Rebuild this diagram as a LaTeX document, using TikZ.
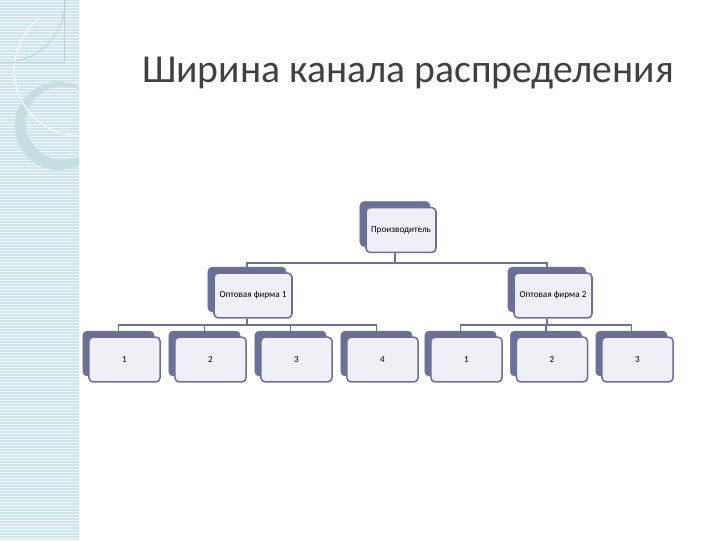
\documentclass[tikz,border=0pt]{standalone}
\usepackage{fontspec}
\setmainfont{Carlito}
\usepackage{tikz}
\definecolor{slate}{HTML}{6B7096}
\definecolor{paleface}{HTML}{EFEFF5}
\definecolor{stripblue}{HTML}{D0E4EB}
\definecolor{ringblue}{HTML}{C6DDE3}
\definecolor{titlegray}{HTML}{404040}

\begin{document}
\begin{tikzpicture}
    [x=0.025cm,y=0.025cm,
    font=\fontsize{6.5}{8}\selectfont,
    box/.style={shape=rectangle,rounded corners=3pt,draw=slate,fill=paleface,line width=1.1pt,minimum height=1.12cm,inner sep=1pt},
    shade/.style={shape=rectangle,rounded corners=3pt,draw=slate,fill=slate,minimum height=1.12cm},
    link/.style={draw=slate,line width=1.4pt}]

    \useasboundingbox (0,0) rectangle (720,540);

    % left strip
    \fill[stripblue] (0,0) rectangle (79,540);
    \foreach \y in {1.5,4.5,...,540} \draw[white!70!stripblue,line width=0.7pt] (0,\y) -- (79,\y);
    \begin{scope}
      \clip (0,0) rectangle (79,540);
      \fill[ringblue,even odd rule] (59,414) circle (44) (63,417) circle (37);
      \draw[white!80!stripblue,line width=0.9pt] (80,470) ++(128:66) arc (128:268:66);
    \end{scope}
    \draw[ringblue!85!gray] (0,478) -- (64,478) -- (64,540);
    \draw[ringblue!75!gray] (5,538) ++(2:60) arc (2:-80:60);

    % title
    \node (title) [anchor=base,text=titlegray,font=\fontsize{28.2}{34}\selectfont] at (408,457) {Ширина канала распределения};

    \node (pb) [shade,minimum width=1.75cm] at (395,316) {};
    \node (p) [box,minimum width=1.75cm] at (401,310) {Производитель};

    \node (w1b) [shade,minimum width=1.95cm] at (247,250.5) {};
    \node (w1) [box,minimum width=1.95cm] at (253,244.5) {Оптовая фирма 1};
    \node (w2b) [shade,minimum width=1.95cm] at (547,250.5) {};
    \node (w2) [box,minimum width=1.95cm] at (553,244.5) {Оптовая фирма 2};

    \node (a1b) [shade,minimum width=1.78cm] at (118.5,186.5) {};
    \node (a1) [box,minimum width=1.78cm] at (124.5,180.5) {1};
    \node (a2b) [shade,minimum width=1.78cm] at (204.5,186.5) {};
    \node (a2) [box,minimum width=1.78cm] at (210.5,180.5) {2};
    \node (a3b) [shade,minimum width=1.78cm] at (290.5,186.5) {};
    \node (a3) [box,minimum width=1.78cm] at (296.5,180.5) {3};
    \node (a4b) [shade,minimum width=1.78cm] at (376.5,186.5) {};
    \node (a4) [box,minimum width=1.78cm] at (382.5,180.5) {4};

    \node (b1b) [shade,minimum width=1.78cm] at (460.5,186.5) {};
    \node (b1) [box,minimum width=1.78cm] at (466.5,180.5) {1};
    \node (b2b) [shade,minimum width=1.78cm] at (546,186.5) {};
    \node (b2) [box,minimum width=1.78cm] at (552,180.5) {2};
    \node (b3b) [shade,minimum width=1.78cm] at (631.5,186.5) {};
    \node (b3) [box,minimum width=1.78cm] at (637.5,180.5) {3};

    \draw [link] (p.south -| pb.center) -- ++(0,-10) -| (w1b.north);
    \draw [link] (p.south -| pb.center) -- ++(0,-10) -| (w2b.north);

    \draw [link] (w1.south -| w1b.center) -- ++(0,-6) -| (a1b.north);
    \draw [link] (w1.south -| w1b.center) -- ++(0,-6) -| (a2b.north);
    \draw [link] (w1.south -| w1b.center) -- ++(0,-6) -| (a3b.north);
    \draw [link] (w1.south -| w1b.center) -- ++(0,-6) -| (a4b.north);

    \draw [link] (w2.south -| w2b.center) -- ++(0,-6) -| (b1b.north);
    \draw [link] (w2.south -| w2b.center) -- ++(0,-6) -| (b2b.north);
    \draw [link] (w2.south -| w2b.center) -- ++(0,-6) -| (b3b.north);

\end{tikzpicture}
\end{document}
